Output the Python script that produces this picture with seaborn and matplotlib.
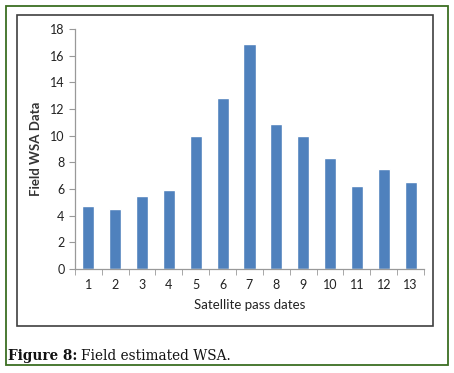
import pandas as pd
import matplotlib.pyplot as plt
import seaborn as sns
from matplotlib.patches import Rectangle

dates = ["1", "2", "3", "4", "5", "6", "7", "8", "9", "10", "11", "12", "13"]
wsa = [4.7, 4.5, 5.5, 5.9, 10.0, 12.8, 16.9, 10.9, 9.95, 8.3, 6.2, 7.5, 6.5]
yticks = [0, 2, 4, 6, 8, 10, 12, 14, 16, 18]

df = pd.DataFrame({"date": dates, "wsa": wsa})

sns.set_style("white")
plt.rcParams['font.family'] = ['Lato', 'DejaVu Sans']

fig = plt.figure(figsize=(4.54, 3.73), dpi=100)
ax = fig.add_axes([0.165, 0.279, 0.769, 0.643])

sns.barplot(data=df, x="date", y="wsa", color="#4F81BD", saturation=1,
            width=0.45, ax=ax)

ax.set_ylim(0, 18)
ax.set_yticks(yticks)
ax.set_xlim(-0.5, len(dates) - 0.5)
ax.set_ylabel("Field WSA Data", fontsize=9.5, fontweight="bold", color="#333333", labelpad=6)
ax.set_xlabel("Satellite pass dates", fontsize=9.5, color="#222222", labelpad=6)

for s in ["top", "right"]:
    ax.spines[s].set_visible(False)
for s in ["left", "bottom"]:
    ax.spines[s].set_color("#999999")
    ax.spines[s].set_linewidth(0.9)

ax.tick_params(axis="y", which="major", direction="out", length=4, color="#999999",
               labelsize=9, labelcolor="#222222", left=True)
ax.tick_params(axis="x", which="major", length=0, labelsize=9, labelcolor="#222222", pad=7)
ax.set_xticks([i - 0.5 for i in range(len(dates) + 1)], minor=True)
ax.tick_params(axis="x", which="minor", direction="out", length=4, color="#999999", bottom=True)

# chart frame and page frame
fig.patches.append(Rectangle((0.037, 0.126), 0.916, 0.834, transform=fig.transFigure,
                             fill=False, edgecolor="#404040", linewidth=1.2))
fig.patches.append(Rectangle((0.013, 0.021), 0.974, 0.962, transform=fig.transFigure,
                             fill=False, edgecolor="#3b6e22", linewidth=1.3))

serif = ["DejaVu Serif"]
t1 = fig.text(0.018, 0.046, "Figure 8:", fontsize=9.8, fontweight="bold",
              family=serif, color="#111111", va="center")
fig.canvas.draw()
bb = t1.get_window_extent().transformed(fig.transFigure.inverted())
fig.text(bb.x1 + 0.008, 0.046, "Field estimated WSA.", fontsize=9.8,
         family=serif, color="#111111", va="center")

plt.savefig("out.png", dpi=100)
plt.close()
